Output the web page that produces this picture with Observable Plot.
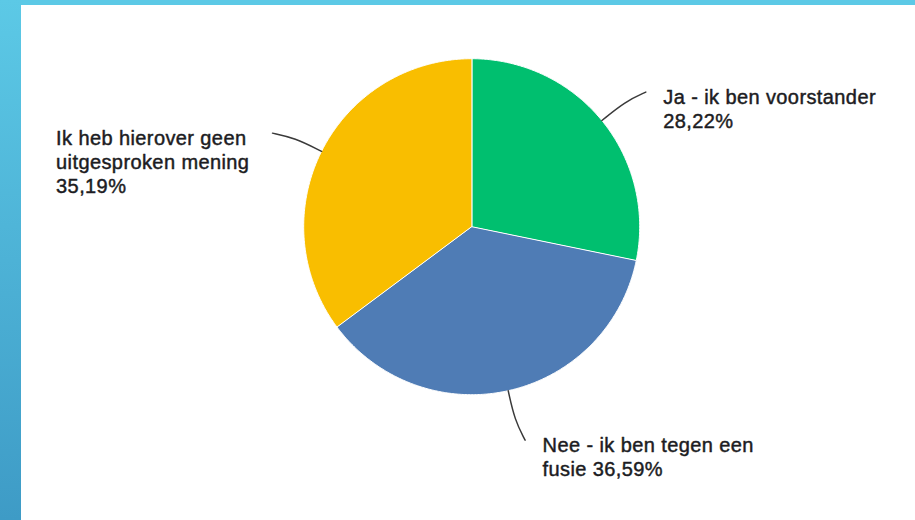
<!DOCTYPE html>
<html>
<head>
<meta charset="utf-8">
<script src="https://cdn.jsdelivr.net/npm/d3@7"></script>
<script src="https://cdn.jsdelivr.net/npm/@observablehq/plot@0.6"></script>
<style>
  html, body { margin: 0; padding: 0; background: #fff; width: 915px; height: 520px; overflow: hidden; }
  #chart { position: absolute; left: 0; top: 0; }
  .stripe-top { position: absolute; left: 0; top: 0; width: 915px; height: 5px; background: #5cc9e6; }
  .stripe-left { position: absolute; left: 0; top: 0; width: 21px; height: 520px; background: linear-gradient(#5cc9e6, #3e9bc6); }
</style>
</head>
<body>
<div id="chart"></div>
<div class="stripe-top"></div>
<div class="stripe-left"></div>
<script>
// Data
const categories = ["Ja - ik ben voorstander", "Nee - ik ben tegen een fusie", "Ik heb hierover geen uitgesproken mening"];
const values = [28.22, 36.59, 35.19];
const labelTemplates = ["Ja - ik ben voorstander\n{v}", "Nee - ik ben tegen een\nfusie {v}", "Ik heb hierover geen\nuitgesproken mening\n{v}"];
const colors = ["#00bf6f", "#4f7cb5", "#f9be00"];

const total = d3.sum(values);
const fmt = v => v.toFixed(2).replace(".", ",") + "%";
const TAU = 2 * Math.PI;
const step = Math.PI / 360;

// Build slice polygons (angles clockwise from 12 o'clock)
const slicePts = [];
const leaderPts = [];
const labels = [];
let acc = 0;
categories.forEach((c, i) => {
  const a0 = acc / total * TAU;
  const a1 = (acc + values[i]) / total * TAU;
  acc += values[i];
  slicePts.push({key: c, x: 0, y: 0});
  const n = Math.ceil((a1 - a0) / step);
  for (let k = 0; k <= n; ++k) {
    const a = a0 + (a1 - a0) * k / n;
    slicePts.push({key: c, x: Math.sin(a), y: Math.cos(a)});
  }
  const mid = (a0 + a1) / 2;
  const right = Math.sin(mid) >= 0;
  const target = right ? Math.PI / 2 : 1.5 * Math.PI;
  const turn = Math.sign(target - mid) * (1.5 * Math.PI / 180);
  const aEnd = mid + turn;
  leaderPts.push({key: c, x: Math.sin(mid), y: Math.cos(mid)});
  leaderPts.push({key: c, x: 1.18 * Math.sin(mid), y: 1.18 * Math.cos(mid)});
  const end = {key: c, x: 1.31 * Math.sin(aEnd), y: 1.31 * Math.cos(aEnd)};
  leaderPts.push(end);
  labels.push({key: c, x: end.x, y: end.y, right, text: labelTemplates[i].replace("{v}", fmt(values[i]))});
});

const W = 915, H = 520, R = 168, cx = 471.2, cy = 226.2;
const textStyle = {fontSize: 20, lineHeight: 1.2, fill: "#1c1c22", stroke: "#1c1c22", strokeWidth: 0.45, textAnchor: "start", lineAnchor: "top", dy: -5};

const chart = Plot.plot({
  width: W,
  height: H,
  marginLeft: cx - R,
  marginRight: W - (cx + R),
  marginTop: cy - R,
  marginBottom: H - (cy + R),
  style: {background: "transparent", fontFamily: "'Liberation Sans', Arial, sans-serif", letterSpacing: "0.4px"},
  x: {domain: [-1, 1], axis: null},
  y: {domain: [-1, 1], axis: null},
  color: {type: "ordinal", domain: categories, range: colors},
  marks: [
    Plot.line(slicePts, {x: "x", y: "y", z: "key", fill: "key", stroke: "white", strokeWidth: 1, curve: "linear-closed"}),
    Plot.line(leaderPts, {x: "x", y: "y", z: "key", stroke: "#3a3a3a", strokeWidth: 1.5, curve: "basis"}),
    Plot.text(labels.filter(d => d.right), {x: "x", y: "y", text: "text", dx: 17.5, ...textStyle}),
    Plot.text(labels.filter(d => !d.right), {x: "x", y: "y", text: "text", dx: -216.4, ...textStyle})
  ]
});
document.getElementById("chart").appendChild(chart);
</script>
</body>
</html>
